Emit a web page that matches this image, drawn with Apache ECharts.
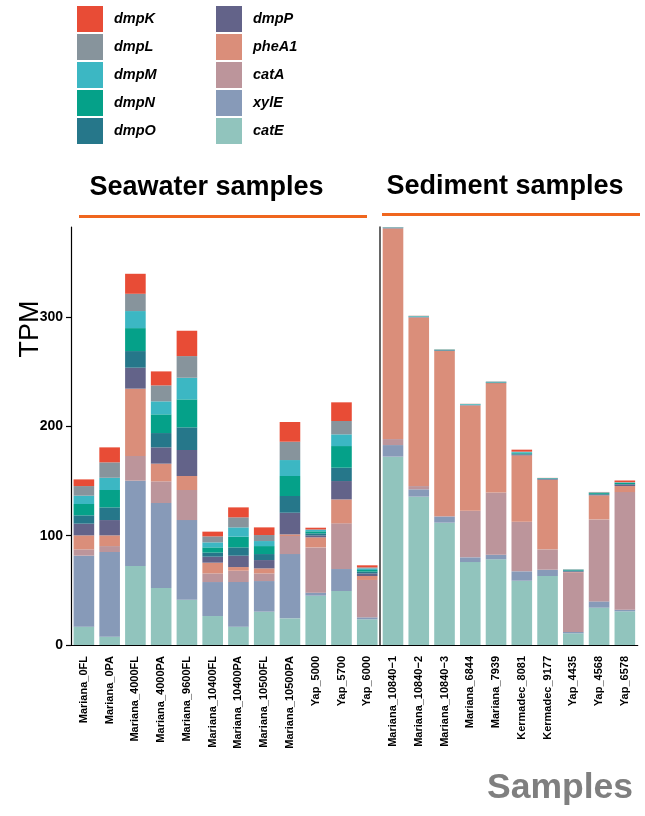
<!DOCTYPE html>
<html>
<head>
<meta charset="utf-8">
<script src="https://cdn.jsdelivr.net/npm/echarts@6/dist/echarts.min.js"></script>
<style>
html,body{margin:0;padding:0;background:#fff;}
#chart{width:645px;height:816px;}
</style>
</head>
<body>
<div id="chart"></div>
<script>
// ---- data ----
const seawaterSamples = ["Mariana_0FL","Mariana_0PA","Mariana_4000FL","Mariana_4000PA","Mariana_9600FL","Mariana_10400FL","Mariana_10400PA","Mariana_10500FL","Mariana_10500PA","Yap_5000","Yap_5700","Yap_6000"];
const sedimentSamples = ["Mariana_10840\u22121","Mariana_10840\u22122","Mariana_10840\u22123","Mariana_6844","Mariana_7939","Kermadec_8081","Kermadec_9177","Yap_4435","Yap_4568","Yap_6578"];
const genes = ["catE","xylE","catA","pheA1","dmpP","dmpO","dmpN","dmpM","dmpL","dmpK"]; // bottom -> top
const catE  = [16.8, 7.6, 72.3, 52.1, 41.5, 26.5, 16.8, 30.5, 24.4, 45.1, 49.4, 23.5, 172.3, 135.7, 111.9, 75.9, 78.4, 58.8, 63.1, 10.7, 34.1, 30.8];
const xylE  = [64.9, 77.5, 78.0, 77.8, 72.8, 31.1, 40.8, 28.0, 58.8, 2.8, 20.1, 1.8, 10.6, 6.7, 5.5, 4.3, 4.2, 8.6, 5.8, 1.2, 5.8, 1.5];
const catA  = [5.8, 5.4, 22.6, 19.8, 27.5, 7.9, 10.4, 7.0, 16.5, 41.4, 41.8, 34.2, 5.5, 3.0, 0.6, 42.7, 57.0, 45.4, 18.6, 54.6, 75.0, 107.6];
const pheA1 = [12.8, 9.8, 61.6, 16.2, 12.8, 9.8, 3.3, 4.6, 1.5, 9.2, 21.9, 3.6, 192.7, 154.3, 151.0, 96.3, 100.0, 60.7, 63.7, 0.3, 22.0, 5.5];
const dmpP  = [10.7, 14.0, 19.2, 14.9, 23.8, 5.5, 10.4, 7.6, 19.8, 1.8, 16.8, 2.4, 0.3, 0.3, 0.4, 0.3, 0.3, 0.8, 0.6, 0.6, 0.6, 1.6];
const dmpO  = [7.6, 11.6, 15.2, 13.1, 20.7, 3.7, 7.6, 5.5, 15.3, 1.8, 12.2, 1.6, 0.2, 0.3, 0.4, 0.3, 0.3, 0.8, 0.5, 0.8, 0.8, 0.2];
const dmpN  = [10.4, 15.9, 21.0, 17.1, 25.6, 4.8, 9.8, 7.3, 18.3, 1.9, 19.8, 1.5, 0.2, 0.3, 0.3, 0.3, 0.3, 0.8, 0.3, 0.6, 0.8, 1.2];
const dmpM  = [7.6, 11.2, 15.6, 11.9, 19.8, 4.6, 8.5, 4.6, 14.6, 1.2, 10.7, 1.5, 0.2, 0.3, 0.2, 0.4, 0.4, 0.7, 0.1, 0.3, 0.5, 0.3];
const dmpL  = [8.8, 14.1, 15.8, 14.6, 19.8, 5.5, 9.2, 5.5, 16.8, 0.6, 12.2, 0.9, 0.6, 0.2, 0.1, 0.1, 0.1, 0.3, 0.1, 0.1, 0.2, 0.3];
const dmpK  = [6.1, 13.7, 18.3, 12.8, 23.2, 4.3, 9.1, 7.0, 18.0, 1.5, 17.1, 1.9, 0.1, 0.1, 0.1, 0.1, 0.1, 1.8, 0.1, 0.1, 0.2, 1.5];
const yTicks = [0, 100, 200, 300];
const legendCol1 = ["dmpK","dmpL","dmpM","dmpN","dmpO"];
const legendCol2 = ["dmpP","pheA1","catA","xylE","catE"];

// ---- styling ----
const geneValues = {catE, xylE, catA, pheA1, dmpP, dmpO, dmpN, dmpM, dmpL, dmpK};
const colors = {
  dmpK: "#E84C36", dmpL: "#87949C", dmpM: "#3CB7C3", dmpN: "#05A189", dmpO: "#26778A",
  dmpP: "#636389", pheA1: "#DA8E7A", catA: "#BC959B", xylE: "#879AB8", catE: "#91C4BD"
};
const FONT = "'Liberation Sans', Arial, Helvetica, sans-serif";
const nSea = seawaterSamples.length, nSed = sedimentSamples.length;
const band = 25.76;
const gLeft = 71, gTop = 227, gHeight = 418;
const yMax = 382.4;

const xAxisCommon = {
  type: 'category',
  axisLine: {show: true, lineStyle: {color: '#000', width: 1.2}},
  axisTick: {show: false},
  axisLabel: {rotate: 90, fontSize: 11, fontWeight: 'bold', color: '#000', fontFamily: FONT, margin: 11, interval: 0},
  splitLine: {show: false}
};

const series = [];
genes.forEach(g => {
  const vals = geneValues[g];
  series.push({name: g, type: 'bar', stack: 'sea', xAxisIndex: 0, yAxisIndex: 0,
    barCategoryGap: '20%', itemStyle: {color: colors[g]}, data: vals.slice(0, nSea), emphasis: {disabled: true}});
  series.push({name: g, type: 'bar', stack: 'sed', xAxisIndex: 1, yAxisIndex: 1,
    barCategoryGap: '20%', itemStyle: {color: colors[g]}, data: vals.slice(nSea), emphasis: {disabled: true}});
});

const legendCommon = {
  orient: 'vertical', top: 6, padding: 0, itemWidth: 26, itemHeight: 26, itemGap: 2, icon: 'rect',
  textStyle: {fontSize: 14.5, fontWeight: 'bold', fontStyle: 'italic', color: '#000', fontFamily: FONT, padding: [0,0,0,6]}
};

const chart = echarts.init(document.getElementById('chart'), null, {renderer: 'canvas'});
chart.setOption({
  animation: false,
  backgroundColor: '#fff',
  legend: [
    Object.assign({left: 77, data: legendCol1}, legendCommon),
    Object.assign({left: 216, data: legendCol2}, legendCommon)
  ],
  grid: [
    {left: gLeft, top: gTop, width: band * nSea, height: gHeight, containLabel: false},
    {left: gLeft + band * nSea, top: gTop, width: band * nSed, height: gHeight, containLabel: false}
  ],
  xAxis: [
    Object.assign({gridIndex: 0, data: seawaterSamples}, xAxisCommon),
    Object.assign({gridIndex: 1, data: sedimentSamples}, xAxisCommon)
  ],
  yAxis: [
    {gridIndex: 0, type: 'value', min: 0, max: yMax, interval: 100,
     axisLine: {show: true, lineStyle: {color: '#000', width: 1.2}},
     axisTick: {show: true, length: 5, lineStyle: {color: '#000', width: 1.2}},
     axisLabel: {fontSize: 14, fontWeight: 'bold', color: '#000', fontFamily: FONT, margin: 8, showMaxLabel: false,
       formatter: v => (yTicks.indexOf(v) >= 0 ? String(v) : '')},
     splitLine: {show: false}},
    {gridIndex: 1, type: 'value', min: 0, max: yMax, interval: 100,
     axisLine: {show: true, lineStyle: {color: '#333', width: 1.5}},
     axisTick: {show: false}, axisLabel: {show: false}, splitLine: {show: false}}
  ],
  graphic: [
    {type: 'text', x: 31, y: 329, rotation: Math.PI / 2, style: {text: 'TPM', font: '27px ' + FONT, fill: '#000', textAlign: 'center', textVerticalAlign: 'middle'}},
    {type: 'text', x: 206.5, y: 188, style: {text: 'Seawater samples', font: 'bold 27px ' + FONT, fill: '#000', textAlign: 'center', textVerticalAlign: 'middle'}},
    {type: 'text', x: 505, y: 187, style: {text: 'Sediment samples', font: 'bold 27px ' + FONT, fill: '#000', textAlign: 'center', textVerticalAlign: 'middle'}},
    {type: 'line', shape: {x1: 79, y1: 216.5, x2: 367, y2: 216.5}, style: {stroke: '#F0661E', lineWidth: 3}},
    {type: 'line', shape: {x1: 382, y1: 214.5, x2: 640, y2: 214.5}, style: {stroke: '#F0661E', lineWidth: 3}},
    {type: 'text', x: 560, y: 788, style: {text: 'Samples', font: 'bold 35.5px ' + FONT, fill: '#7F7F7F', textAlign: 'center', textVerticalAlign: 'middle'}}
  ],
  series: series
});
</script>
</body>
</html>
